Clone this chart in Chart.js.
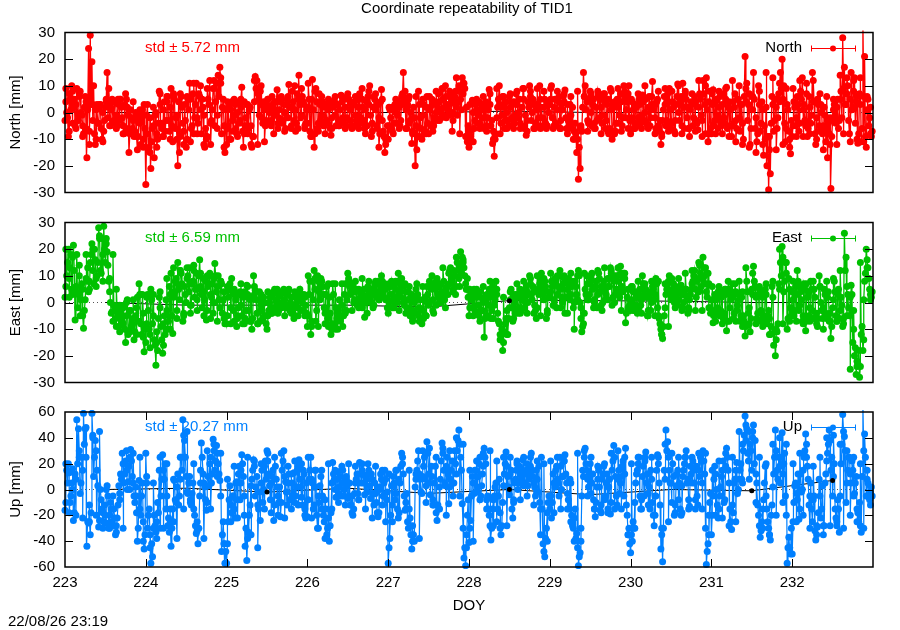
<!DOCTYPE html>
<html>
<head>
<meta charset="utf-8">
<title>Coordinate repeatability of TID1</title>
<script src="https://cdn.jsdelivr.net/npm/chart.js@4"></script>
<style>
    html, body { margin: 0; padding: 0; background: #ffffff; }
    canvas { position: absolute; left: 0; top: 0; }
</style>
</head>
<body>
<canvas id="northChart" width="900" height="630"></canvas>
<canvas id="eastChart" width="900" height="630"></canvas>
<canvas id="upChart" width="900" height="630"></canvas>
<script>
const firstDoy = 223;
const lastDoy = 233;
const samplesPerDay = 96;
const edgeSamplesPerDay = 24;
const doyTickLabels = ["223", "224", "225", "226", "227", "228", "229", "230", "231", "232"];

// one row per day, values in mm: spikes and outer points
const northValues = [
    -3,0,-9,5,10,2,-5,9,-3,8,-1,-8,6,-17,24,29,19,10,-12,3,-4,3,-10,-7,2,15,9,-5,5,-3,4,-5,3,5,-2,-8,7,2,-15,1,-6,-9,0,-14,-3,-12,1,3,
    -27,3,-13,-21,-6,-17,0,-10,8,-4,-9,4,-3,6,-7,9,-11,5,-2,-20,-15,6,-4,3,-13,5,11,-6,7,-2,11,-4,6,-8,2,-13,-10,5,12,-3,9,-5,11,14,17,-8,5,-15,
    -12,2,-10,4,-7,3,-8,4,-3,9.5,-13,-5,3,-6,2,-13,-9,13.5,12,5,8,-2,4,-5,3,-4,2,6,-8,1,8.5,-2,4,-4,3,-6,5,10.5,2,8,-3,-7,7,14,-2,6,3,-4,
    -4,5,-9,12.4,-13,9,-6,7,-3,4,-5,3,-4,4,-8.5,2,4.6,-5,3,-5,6.5,-2,5,-5,7,-3,3,-5.4,4,-3,5,7,-4,2,-6,4,6,10,-9,2,5,-5,3,-8,8.6,-7,-15,-10,
    -10,1,-6,-8,3,-4,4,-5,6,15,8,-6,5,-3,-11.6,2,-20,-14,8,-2,-10,3,-7,6,-8,2,5,-5,4,-3,7,1,9,-1,10,3,-1,7,-7,4,8,-1,10,5,13,11,-9,-11,
    -13,-9,4.6,-6,3,-4,4,-5,3,-6,4,-2,8.6,-5,-11.6,-16.4,-8,2,10,-4,6,-6,4,-3,6,-5,3,-4,7,-2,5,-5,9,-6,-8.5,4,10,-3,5,-6,3,-5,10,2,-5,5,-6,3,
    3,10,-6,5,-5,4,-6,3,6,8.4,-6,-3,3,-6,-10,-4,-15,-25,-21,-7,15,10,4,-4,8,-5,5,-6,-3,6.5,5,-4,7,-6,3,-8,9,-10,2,-7,5,-4,7,-5,10,-2,4,10,
    -8,4,-6,3,-5,5,-4,6.6,-3,5,-5,6,-2,11.6,3,-6,5,-7,-12,-3,6,-5,7,9,-6,4,-7,3,10.7,-3,6,11,-6,5,2,-9,4,-5,6,-3,-6.5,7,-1,12,3,13,-11,8,
    -8,8.5,-3,5,-6,6,-5,7,-4,9.5,2,-5,-9,4,7,-6,5,-7,3,-10,21,11,3,-12,6,15,-6,-11,10,-7,4,-16,-10,-20,-29,-23,6,-7,5,-6,7,15,20,10,-11,3,-7,-15.5,
    -9,4,-5,6,-7,8,13,3,-5,-9,6,-4,15,4,-12,5,-5,3,-8,2,-11,-17,-8,-28.5,-3,3,-4,5,-3,8,28,17,3,10,-8,15,2,13,4,-11.5,7,-11,34,21,-13,5,-2,-9
];
// samples between the ones above, inside the band
const northInner = [
    4,-2,7,1,-4,5,3,-3,6,0,-5,2,-6,1,-7,3,-3,-8,1,-4,2,-6,0,-3,4,-2,3,1,-4,4,-1,5,-3,2,-5,3,-6,-1,-8,-2,-3,-7,-1,-9,-4,-1,-10,-6,
    -8,-14,-2,-11,-5,-1,-8,-4,3,-6,1,-7,4,-3,2,-5,6,-6,-1,4,-9,2,-7,-3,-10,1,5,-5,-8,3,-2,7,1,5,-1,-6,-9,3,-4,1,9,4,-1,6,11,2,-5,1,
    -6,-10,1,-3,-1,-6,0,-4,2,-7,4,-2,-8,1,-5,-9,4,9,7,-1,3,-4,1,-3,5,0,-3,3,-1,4,-4,1,5,-3,0,3,-2,2,-5,4,1,-4,5,3,-1,4,-5,1,
    2,-7,5,1,-8,4,-4,3,-1,-5,2,-3,1,-6,-2,4,-1,3,-3,1,4,-4,2,-2,5,1,-5,3,-1,-4,2,-2,5,-3,1,-5,3,-1,-4,6,1,-6,-2,4,-3,-9,-12,-5,
    -5,-2,2,-4,0,-1,2,-3,3,4,1,3,-4,0,-7,-2,-5,-9,3,-6,-1,-8,2,-4,1,-5,3,-2,0,2,4,-2,5,2,6,1,3,5,0,6,2,4,8,1,7,9,2,-5,
    -7,-11,0,-3,1,-1,-4,1,-2,2,-5,1,3,-3,-7,-10,-2,5,3,-1,2,-3,0,-5,2,-2,4,-1,3,0,-4,2,5,-1,-3,2,6,0,3,-4,1,-2,5,-2,2,-4,4,0,
    5,-2,2,-4,1,6,-3,1,4,-2,3,-5,-1,2,-7,-8,-10,-13,-5,2,6,1,-3,5,0,3,-4,2,6,-2,2,-1,4,-3,5,-6,1,-7,4,-4,2,-1,4,-2,6,1,7,-3,
    -2,1,-4,2,-2,3,-1,4,0,-4,2,-5,3,1,-2,4,-5,-3,-8,1,3,-3,4,1,-4,2,-3,6,0,4,-5,2,7,-2,-6,1,3,-2,4,-4,2,5,-3,7,-8,1,4,-6,
    3,-5,4,-1,2,-3,3,-2,5,-6,4,1,-5,2,-3,5,-2,3,-4,6,4,-3,7,-6,1,5,-2,-8,3,-4,1,-5,2,-9,-14,-4,3,-3,2,-2,4,9,5,-4,-6,1,-10,-3,
    -5,2,-2,3,-4,5,1,-3,7,-6,2,-1,4,-8,-2,3,-7,0,-5,-1,-7,-4,-2,-9,1,-1,2,-6,5,-2,9,3,7,-3,5,1,8,-4,6,-8,3,-6,6,-9,1,-5,2,-7
];
// upper and lower rim of the solid band, in pairs
const northEdge = [
    9,-7,8,-6,7,-9,4,-12,3,-10,3,-11,5,-5,4,-6,5,-8,5,-7,4,-9,1,-13,
    -1,-15,2,-13,7,-9,6,-10,7,-10,7,-12,6,-11,11,-8,10,-12,9,-12,12,-6,13,-13,
    4,-10,5,-9,5,-8,3,-12,12,-12,10,-11,5,-5,4,-6,6,-7,6,-6,10,-6,9,-6,
    11,-9,8,-7,6,-8,5,-6,6,-5,6,-6,5,-6,6,-6,9,-8,8,-7,7,-13,5,-10,
    2,-7,5,-6,7,-6,6,-8,6,-9,5,-8,6,-7,8,-3,9,-2,8,-3,13,-8,11,-9,
    3,-11,5,-6,6,-7,7,-10,9,-8,6,-6,7,-6,8,-6,9,-7,8,-6,9,-6,8,-5,
    9,-5,8,-6,7,-8,6,-10,8,-6,6,-7,7,-6,8,-8,7,-7,8,-8,9,-7,8,-6,
    5,-6,7,-6,10,-6,6,-8,8,-9,9,-7,8,-8,10,-8,8,-6,7,-7,12,-9,10,-8,
    7,-8,8,-8,9,-9,12,-11,10,-12,9,-13,6,-15,8,-12,15,-9,13,-14,11,-12,9,-13,
    9,-9,12,-9,11,-8,12,-10,7,-14,6,-12,5,-12,14,-8,13,-11,12,-10,13,-11,6,-8
];
const eastValues = [
    2,10,20,13,5,21.5,-6.6,18,3,-5,7,-9.7,1,8,4,15,22,7,16,10,28,12,24,28.6,15,19,8,0,-3.5,-1,-6,-3,-9,-4,-7,-1,-15,1,-11,-3,-8,-14,-5,2,7,-8,3,-18.5,
    -15,3,-10,5,-8,-14,-23.5,-18,2,-9,-19,-5,1,-10,6,11,-11.6,4,9,15,1,11,-7,6,0,10,13,-1,8,2,11,5,16,3,9,1,-6.6,6,11,2,-4,14.6,4,10,-2,7,1,-8,
    -8,2,7,9,-3,3,-9,-2,4,-5,2,-6,6.5,-3,1,-10,10,4.6,-4,1,-7,-1,2,-5,-10,-3,2,-4,4,-2,5,-3,3,0,5,-2,3,5,0,-3,-6,-2,1,3,-3,0,3,-1,
    -9,3,-12,8,12,-7,10,4,9,6,-2,3,-6,2,-12,7,-8,-2,-10,1,-5,-9,3,-3,11,6,4,7,1,5,-1,4,0,3,-5.5,2,6,1,5,-2,7,2,8,3,10,4,7,1,
    -4,3,8,1,7,2,11,4,9,0,7,-2,4,-5,3,-3,2,7,-5,1,-8,-6,2,6,-1,7,10,-4,5,9,2,7,3,8,-2,6,11,13,8,12,3,15,9,19,17,13,7,9,
    -5,4,-2,5,-4,3,-5,2,-3,-13,1,-5,5,-6,6,-1,8,-4,-8,-14,-18,-11,-6,-12,-2,5,-7,0,3,-4,3,-3,4,-2,6,0,10,3,6,-1,-6,5,7,11,3,8,-6,4,
    2,8,-1,9,-2,6,12,2,7,-4,8,9,1,6,-2,8,3,12,0,-11,-8,5,10,1,7,11,-2,6,-2,11,4,-3,8,1,6,9,13,-1,8,3,10,4,13.6,6,11,-7.6,2,5,
    -3,6,-3,4,-4,3,-1,10,3,5,-5,2,-3,6,1,9,-2,-6,-10,-13.5,-5,3,7,10,1,5,0,6,-1,4,6.5,-2,3,5,-4,1,5,8,12,2,9,14,6,17,10,4,11,-2,
    1,-7.6,3,-4,4,-5,2,-6,5,-10.6,8,-2,4,-6,7,-3,3,-7,2,-5,-12.6,8,-4,-11,5,13.6,6,-6,3,-7,4,-5,5,-8,-3,-12,6,-16,-20,-11,7,15,21,4,15,-10,9,-2,
    4,-5,6,12,-3,4,-7,7,-10.6,2,-5,8,-3,5,-6,-9,10,0,-6,5,-4,2,-7,-13.5,-2,8,-5,3,-6,2,-9,26,17,3,-5,6.5,-15,-20,-27,-23,-28,-12,-18,8,20,13,5,2
];
const eastInner = [
    6,15,9,18,3,12,6,-2,10,1,5,-3,9,13,8,18,12,20,9,15,24,11,18,20,22,14,4,-4,-7,-3,-9,-5,-11,-6,-2,-10,-5,-12,-3,-9,-6,-11,-2,-7,3,-12,-4,-10,
    -8,-3,-12,1,-5,-16,-11,-6,-2,-14,-8,-12,-3,-7,3,-5,2,8,-3,5,12,7,-4,3,9,4,-1,7,12,5,1,10,6,-2,4,8,-3,10,3,7,0,10,6,1,8,-4,4,-5,
    -5,5,-2,4,-7,1,-5,3,-1,-8,4,-3,3,-7,2,-6,6,1,-8,4,-3,-6,0,-8,-5,0,-2,3,-3,1,-1,3,-2,4,1,-1,4,-3,2,-4,-1,3,-2,5,1,-3,2,-4,
    -5,8,-7,1,5,-3,8,1,6,3,-4,6,-9,-4,-8,3,-10,-6,-3,-7,-1,-5,7,1,9,3,6,0,4,-1,5,2,-2,5,1,-4,4,0,3,-1,4,7,1,5,8,2,5,-2,
    0,6,3,-2,5,0,8,2,6,-1,4,1,-4,2,-6,0,-4,3,-2,-7,-3,1,-5,3,0,5,1,7,-1,3,6,0,4,1,5,3,7,9,5,10,6,12,14,11,16,10,5,2,
    -2,1,3,-3,2,-1,4,-3,0,-6,3,-1,2,-3,4,1,5,-7,-12,-10,-15,-8,-3,-6,1,-2,3,-4,2,-2,5,1,2,0,4,3,7,1,4,-3,-2,3,9,5,1,6,-3,2,
    4,6,1,7,3,10,5,0,9,2,5,7,3,8,0,6,1,10,-6,-9,-4,3,7,3,9,5,1,8,3,9,6,0,5,3,9,6,11,2,10,5,8,2,11,4,9,-4,5,-1,
    1,4,-1,2,-2,5,1,7,5,2,-3,4,0,5,3,7,-5,-8,-12,-9,-2,5,8,4,3,7,2,4,1,6,3,0,5,2,-2,3,7,10,5,8,4,11,9,13,7,2,7,-4,
    -3,-5,1,-2,2,-3,4,-4,3,-7,5,1,2,-4,4,-1,1,-5,4,-7,-9,4,-2,-6,3,8,2,-4,5,-3,2,-7,3,-5,-6,-9,2,-11,-14,-8,5,10,17,8,11,-6,5,-5,
    1,-3,3,8,-1,1,-5,5,-7,4,-2,5,-6,2,-4,-6,6,-3,-2,3,-6,4,-4,-9,1,4,-7,5,-3,-1,-6,12,6,-2,2,3,-10,-17,-22,-18,-24,-9,-14,11,16,9,3,4
];
const eastEdge = [
    20,2,17,4,14,-5,18,5,20,6,25,8,24,9,18,5,-1,-8,0,-11,1,-12,3,-13,
    2,-17,3,-15,4,-16,9,-10,13,-6,12,-5,13,-4,14,-3,11,-5,10,-6,9,-7,8,-6,
    6,-8,5,-6,7,-8,6,-7,3,-8,3,-5,4,-4,5,-4,4,-5,4,-4,4,-5,3,-5,
    10,-9,9,-9,8,-8,7,-10,7,-5,7,-4,8,-3,8,-2,9,0,8,0,8,1,7,1,
    7,-2,8,-3,7,-4,6,-7,5,-7,6,-5,8,-3,8,0,13,3,12,4,17,6,15,5,
    5,-5,5,-7,6,-5,8,-6,3,-14,2,-12,4,-6,7,-4,8,-4,9,-4,10,-5,9,-4,
    11,-1,10,-2,10,-4,11,-10,10,-2,11,1,10,0,12,-1,13,1,12,0,13,-3,11,-2,
    6,-3,8,-4,7,-5,8,-5,8,-12,7,-9,9,-2,9,-3,11,-3,12,-3,15,-3,13,-2,
    6,-7,6,-8,5,-7,7,-7,8,-9,13,-8,11,-8,6,-9,7,-12,8,-10,20,-8,15,-7,
    8,-7,6,-8,7,-7,8,-8,6,-10,8,-7,9,-7,12,-8,-5,-25,-3,-24,15,1,13,1
];
const upValues = [
    -16,15,20,-10,5,-24,12,54,47,-3,25,59,47,-44,-26,-35,59,10,38,15,-29,0,-15,-25,-20,3,-30,-10,-25,-15,-35,-22,3,12,28,5,22,0,18,31,10,-5,2,-40,7,-20,5,-46,
    28,-30,-15,-57,-52,-20,-33,-10,15,-5,27,8,-15,-28,-33,-44,-15,7,-10,12,-5,25,54,38,10,-3,10,-12,5,-20,-34,-42,-5,36,12,2,-16,10,20,5,39,15,34,20,7,-48,-25,-57,
    -57,-25,3,-18,-5,-22,6,12,-8,27,10,-44,-55,-33,-12,8,23,-5,10,-15,-24,15,0,22,30,12,-8,10,-24,18,2,-10,-21,15,30,6,-12,12,-8,5,13,-5,15,23,2,-12,12,-22,
    -21,8,25,5,-12,15,-30,-10,10,-5,-25,-15,-30,-40,-18,21,8,-6,14,2,-5,15,0,10,-7,5,-12,-20,-3,8,-3,21,5,12,-4,8,20,3,12,-3,5,-10,-21,0,8,-5,15,-8,
    -57,-38,3,10,-8,15,-22,5,28,12,-16,-3,-30,-22,-46,-35,2,15,30,8,-3,18,8,37,12,-4,10,-12,18,-24,-15,8,36,15,3,25,-11,8,22,5,20,30,46,25,-11,-53,-59,-20,
    -41,-24,10,-3,15,2,20,-5,12,32,20,-5,-20,-39,-15,-5,5,-15,8,-35,-10,12,29,10,-4,15,-22,5,15,0,18,8,23,5,15,3,12,28,10,2,15,-2,-10,25,-42,-52,-30,-10,
    -15,-22,12,2,18,5,25,0,10,27,5,-8,8,-20,-30,-15,-34,-59,-49,-5,10,32,15,2,20,5,-8,-21,2,15,-16,8,18,-5,12,2,-19,15,34,10,-12,15,5,18,-5,32,-20,-30,
    -49,-40,-30,5,15,25,-15,10,-5,29,12,2,15,-10,-28,-5,27,5,-46,-56,15,46,37,15,5,20,-20,3,15,5,-20,10,20,30,8,-13,12,22,5,18,-12,10,22,30,12,-58,-42,-10,
    -35,-5,18,0,-22,-5,10,22,-8,32,15,-15,-31,-18,8,21,0,15,8,30,57,47,22,35,15,50,38,5,-20,-37,-25,-8,18,-15,-30,-39,-12,12,46,15,25,5,44,20,-5,-57,-37,-50,
    -50,-10,5,-8,-23,12,0,25,43,18,-12,5,-25,-5,-39,-29,8,-22,3,-28,12,28,46,15,-5,20,-22,-8,-33,20,58,41,-10,15,25,5,15,-3,10,-18,-10,-33,66,43,-5,5,-8,2
];
const upInner = [
    -10,5,13,-5,0,-18,8,20,30,5,15,35,25,-25,-12,-18,42,25,30,3,-24,-8,-18,-12,-26,-5,-20,-15,-28,-22,-28,-12,-3,8,20,12,15,6,25,22,5,-10,-18,-30,-15,-5,-25,-35,
    5,-20,-35,-42,-30,-28,-25,-18,-30,8,15,20,-5,-22,-15,-30,-25,-8,2,-12,8,15,42,25,-2,5,-8,-3,-15,-28,-25,-30,5,25,5,-8,-10,3,25,12,30,22,28,12,-5,-35,-42,-48,
    -42,-8,-12,-5,-15,5,-8,18,5,20,-5,-30,-38,-20,3,15,18,2,-12,-2,5,-10,18,8,22,3,5,15,-12,8,-5,2,-10,22,10,-2,5,-8,12,-4,-10,2,18,8,-6,15,-15,5,
    -8,15,8,-15,2,-20,-5,3,-15,-20,-8,-35,-22,-28,5,12,0,8,-3,10,5,-5,8,3,-5,-12,-5,-15,5,12,-8,12,15,5,10,-2,12,-7,8,-12,-3,-18,2,12,-12,5,8,-2,
    -45,-20,-12,5,-3,-15,8,18,20,-5,-10,-25,-15,-35,-28,-40,8,22,12,-2,10,25,3,28,5,18,-8,5,-18,-12,2,22,28,5,18,12,2,15,5,30,12,38,35,15,-30,-45,-35,-8,
    -30,-5,5,15,-2,10,25,3,18,25,-8,-15,-28,-30,-8,2,-25,-5,-18,-28,3,20,18,2,12,-15,-8,8,20,5,12,15,3,12,20,8,18,15,5,-5,8,18,-35,-15,-48,-38,-18,-5,
    -5,-10,5,15,8,-5,18,10,22,12,-3,-15,-25,-28,-22,-38,-45,-52,-30,15,25,20,8,12,-3,12,-15,-10,8,2,-12,12,-8,5,-15,8,-10,22,25,-5,8,-3,10,22,12,-12,-35,-42,
    -35,-25,-10,12,20,-5,-8,18,22,5,-3,-15,8,-20,-5,15,20,-12,-35,-30,8,30,25,5,-10,10,-12,12,-8,-15,3,15,25,5,-8,18,5,15,-8,-5,15,25,5,22,-30,-48,-20,-3,
    -20,8,12,-12,-15,2,15,-10,18,25,5,-25,-12,5,15,-3,8,20,35,42,38,28,45,30,40,20,12,-12,-28,-32,-15,5,-5,-25,-35,-20,2,25,30,8,18,25,12,28,-20,-45,-45,-30,
    -25,3,-3,12,-15,-2,15,30,25,8,-5,-15,-8,-32,-28,-18,-5,-15,-28,5,22,35,38,25,10,-15,-28,-15,-5,35,45,30,5,25,12,22,-5,5,-15,-25,-28,10,30,25,8,-6,-2,-5
];
const upEdge = [
    20,-18,16,-20,25,-22,48,-25,40,-20,45,-30,0,-30,-5,-33,-8,-30,30,0,28,-5,25,-40,
    10,-45,5,-38,25,-30,20,-25,8,-38,25,-15,45,-10,20,-32,15,-38,30,-15,35,10,28,-42,
    8,-25,18,-22,15,-20,25,-35,22,-45,20,-15,28,-18,25,-20,28,-22,18,-15,22,-12,20,-20,
    25,-22,15,-30,15,-38,20,-15,15,-10,18,-12,20,-18,18,-8,20,-15,15,-22,18,-18,15,-25,
    12,-25,15,-18,25,-15,15,-40,12,-38,30,-10,32,-12,25,-15,32,-20,30,-5,40,-5,35,-45,
    15,-40,22,-8,28,-15,30,-28,22,-30,25,-28,25,-10,22,-8,25,-5,25,-12,22,-15,20,-40,
    22,-18,25,-15,22,-15,5,-40,28,-40,30,-5,25,-15,18,-18,20,-18,28,-15,30,-15,25,-35,
    20,-30,25,-15,25,-12,25,-20,25,-30,35,-25,28,-18,25,-18,25,-15,25,-15,28,-15,28,-35,
    15,-20,22,-22,28,-28,25,-25,45,5,50,8,45,-10,25,-30,20,-35,35,-20,40,-10,35,-45,
    20,-25,28,-20,35,-30,18,-35,25,-35,40,-28,42,-25,35,-30,30,-20,25,-25,20,-30,15,-12
];

// daily solutions, drawn in black behind the coloured series
const dailyDoy = [223.5, 224.5, 225.5, 226.5, 227.5, 228.5, 229.5, 230.5, 231.5, 232.5];
const northDaily = [0, 0, 0, 0, 0, 0.5, 0, 0, 0, 0];
const eastDaily = [0, -1, -1, -1, -1.7, 0.7, 0.7, 0.5, 0, 0];
const upDaily = [0, 1, -2, 1, -3, 0, -4, 0, -1, 7];
const eastDailyVisible = [5];
const upDailyVisible = [2, 5, 8, 9];

const FONT = "'Liberation Sans', Arial, sans-serif";

// builds one panel; every panel is a full size canvas, stacked on the others
function drawPanel(canvasId, panel) {
    const merged = panel.values.flatMap((v, i) => [v, panel.inner[i]]);
    const points = merged.map((v, i) => ({ x: firstDoy + i / samplesPerDay, y: v }));
    const edgePoints = panel.edge.map((v, i) => ({ x: firstDoy + (i + 0.25) / edgeSamplesPerDay, y: v }));
    const series = points.concat(edgePoints).sort((a, b) => a.x - b.x);
    const daily = dailyDoy.map((d, i) => ({ x: d, y: panel.daily[i] }));

    const panelDecor = {
        id: "panelDecor",
        beforeDatasetsDraw(chart) {
            const { ctx, chartArea: a, scales } = chart;
            // dotted zero line
            ctx.save();
            ctx.strokeStyle = "#555555";
            ctx.lineWidth = 1;
            ctx.setLineDash([1, 3]);
            const y0 = scales.y.getPixelForValue(0);
            ctx.beginPath();
            ctx.moveTo(a.left, y0);
            ctx.lineTo(a.right, y0);
            ctx.stroke();
            ctx.restore();
            // std text sits under the marks
            ctx.save();
            ctx.fillStyle = panel.color;
            ctx.font = "15px " + FONT;
            ctx.textBaseline = "middle";
            ctx.fillText(panel.stdText, 145, panel.textY);
            ctx.restore();
        },
        afterDatasetsDraw(chart) {
            const { ctx, chartArea: a, scales } = chart;
            ctx.save();
            ctx.strokeStyle = "#000000";
            ctx.lineWidth = 1;
            // y ticks, inward on both sides
            scales.y.ticks.forEach(t => {
                if (t.value === scales.y.min || t.value === scales.y.max) return;
                const y = Math.round(scales.y.getPixelForValue(t.value)) + 0.5;
                ctx.beginPath();
                ctx.moveTo(a.left, y);
                ctx.lineTo(a.left + 8, y);
                ctx.moveTo(a.right, y);
                ctx.lineTo(a.right - 8, y);
                ctx.stroke();
            });
            // x ticks only on the bottom panel
            if (panel.showX) {
                scales.x.ticks.forEach(t => {
                    if (t.value === firstDoy || t.value === lastDoy) return;
                    const x = Math.round(scales.x.getPixelForValue(t.value)) + 0.5;
                    ctx.beginPath();
                    ctx.moveTo(x, a.bottom);
                    ctx.lineTo(x, a.bottom - 8);
                    ctx.moveTo(x, a.top);
                    ctx.lineTo(x, a.top + 8);
                    ctx.stroke();
                });
            }
            ctx.lineWidth = 1.5;
            ctx.strokeRect(a.left, a.top, a.right - a.left, a.bottom - a.top);
            ctx.restore();

            // legend with its error bar sample
            ctx.save();
            ctx.fillStyle = "#000000";
            ctx.font = "15px " + FONT;
            ctx.textAlign = "right";
            ctx.textBaseline = "middle";
            ctx.fillText(panel.name, 802, panel.textY);
            const ly = panel.textY + 0.5;
            ctx.strokeStyle = panel.color;
            ctx.lineWidth = 1;
            ctx.beginPath();
            ctx.moveTo(811, ly);
            ctx.lineTo(855, ly);
            ctx.moveTo(811.5, ly - 3);
            ctx.lineTo(811.5, ly + 3);
            ctx.moveTo(855.5, ly - 3);
            ctx.lineTo(855.5, ly + 3);
            ctx.stroke();
            ctx.fillStyle = panel.color;
            ctx.beginPath();
            ctx.arc(833, ly, 3, 0, Math.PI * 2);
            ctx.fill();
            ctx.restore();

            if (panel.showX) {
                ctx.save();
                ctx.fillStyle = "#000000";
                ctx.font = "15px " + FONT;
                ctx.textBaseline = "middle";
                ctx.fillText("22/08/26 23:19", 8, 622);
                ctx.restore();
            }
        },
    };

    return new Chart(document.getElementById(canvasId).getContext("2d"), {
        type: "line",
        data: {
            datasets: [
                {
                    data: daily,
                    order: 0,
                    showLine: false,
                    pointRadius: ctx => panel.dotsOnTop.includes(ctx.dataIndex) ? 2.5 : 0,
                    pointBackgroundColor: "#000000",
                    pointBorderWidth: 0,
                },
                {
                    data: series,
                    order: 1,
                    borderColor: panel.color,
                    borderWidth: panel.lineWidth,
                    pointRadius: 3.5,
                    pointBackgroundColor: panel.color,
                    pointBorderWidth: 0,
                    clip: { left: 4, right: 4, top: 2, bottom: 2 },
                },
                {
                    data: daily,
                    order: 2,
                    borderColor: "#000000",
                    borderWidth: 1,
                    pointRadius: 0,
                },
            ],
        },
        options: {
            responsive: false,
            animation: false,
            devicePixelRatio: 1,
            events: [],
            layout: {
                padding: { left: 0, right: 27, top: panel.top, bottom: panel.bottomPad },
            },
            plugins: {
                legend: { display: false },
                tooltip: { enabled: false },
            },
            scales: {
                x: {
                    type: "linear",
                    display: panel.showX,
                    min: firstDoy,
                    max: lastDoy,
                    grid: { display: false, drawTicks: false },
                    border: { display: false },
                    ticks: {
                        stepSize: 1,
                        autoSkip: false,
                        maxRotation: 0,
                        padding: 7,
                        color: "#000000",
                        font: { family: FONT, size: 15 },
                        callback: (v) => doyTickLabels[v - firstDoy] || "",
                    },
                    title: {
                        display: panel.showX,
                        text: "DOY",
                        color: "#000000",
                        padding: 0,
                        font: { family: FONT, size: 15 },
                    },
                    afterFit(axis) { axis.height = panel.showX ? 48 : 0; },
                },
                y: {
                    min: panel.min,
                    max: panel.max,
                    grid: { display: false, drawTicks: false },
                    border: { display: false },
                    ticks: {
                        stepSize: panel.step,
                        autoSkip: false,
                        padding: 10,
                        color: "#000000",
                        font: { family: FONT, size: 15 },
                    },
                    title: {
                        display: true,
                        text: panel.label,
                        color: "#000000",
                        padding: { top: 7, bottom: 0 },
                        font: { family: FONT, size: 15 },
                    },
                    afterFit(axis) { axis.width = 65; },
                },
            },
        },
        plugins: [panelDecor],
    });
}

drawPanel("northChart", {
    name: "North", label: "North [mm]", stdText: "std \u00b1 5.72 mm", color: "#ff0000",
    values: northValues, inner: northInner, edge: northEdge, daily: northDaily, dotsOnTop: [], lineWidth: 1.3,
    min: -30, max: 30, step: 10, top: 32.5, bottomPad: 437.5, textY: 48, showX: false,
});
drawPanel("eastChart", {
    name: "East", label: "East [mm]", stdText: "std \u00b1 6.59 mm", color: "#00c000",
    values: eastValues, inner: eastInner, edge: eastEdge, daily: eastDaily, dotsOnTop: eastDailyVisible, lineWidth: 1.3,
    min: -30, max: 30, step: 10, top: 222.5, bottomPad: 247.5, textY: 238, showX: false,
});
drawPanel("upChart", {
    name: "Up", label: "Up [mm]", stdText: "std \u00b1 20.27 mm", color: "#0080ff",
    values: upValues, inner: upInner, edge: upEdge, daily: upDaily, dotsOnTop: upDailyVisible, lineWidth: 1.2,
    min: -60, max: 60, step: 20, top: 412, bottomPad: 15, textY: 427, showX: true,
});

// title sits on the first canvas, over the plot centre
const titleCtx = document.getElementById("northChart").getContext("2d");
titleCtx.save();
titleCtx.fillStyle = "#000000";
titleCtx.font = "15px " + FONT;
titleCtx.textAlign = "center";
titleCtx.textBaseline = "middle";
titleCtx.fillText("Coordinate repeatability of TID1", 467, 9);
titleCtx.restore();
</script>
</body>
</html>
